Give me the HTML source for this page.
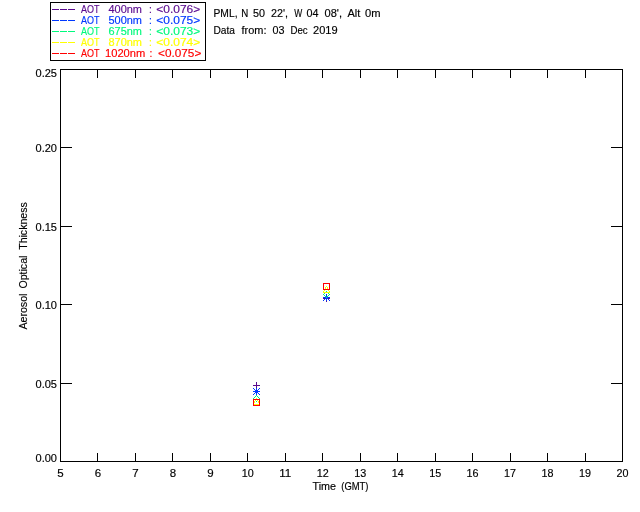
<!DOCTYPE html>
<html lang="en"><head><meta charset="utf-8"><title>Aerosol Optical Thickness - PML</title>
<style>html,body{margin:0;padding:0;background:#fff;overflow:hidden}svg{display:block}text{font-family:"Liberation Sans",sans-serif;font-size:10.2px;fill:#000;stroke:#000;stroke-width:0.15px;white-space:pre}.k{shape-rendering:crispEdges}</style></head><body>
<svg width="640" height="512" viewBox="0 0 640 512">
<rect width="640" height="512" fill="#fff"/>
<g class="k" fill="#000">
<rect x="60" y="69" width="563" height="1"/>
<rect x="60" y="461" width="563" height="1"/>
<rect x="60" y="69" width="1" height="393"/>
<rect x="622" y="69" width="1" height="393"/>
<rect x="97" y="69" width="1" height="9"/>
<rect x="97" y="453" width="1" height="9"/>
<rect x="135" y="69" width="1" height="9"/>
<rect x="135" y="453" width="1" height="9"/>
<rect x="172" y="69" width="1" height="9"/>
<rect x="172" y="453" width="1" height="9"/>
<rect x="210" y="69" width="1" height="9"/>
<rect x="210" y="453" width="1" height="9"/>
<rect x="247" y="69" width="1" height="9"/>
<rect x="247" y="453" width="1" height="9"/>
<rect x="285" y="69" width="1" height="9"/>
<rect x="285" y="453" width="1" height="9"/>
<rect x="322" y="69" width="1" height="9"/>
<rect x="322" y="453" width="1" height="9"/>
<rect x="360" y="69" width="1" height="9"/>
<rect x="360" y="453" width="1" height="9"/>
<rect x="397" y="69" width="1" height="9"/>
<rect x="397" y="453" width="1" height="9"/>
<rect x="435" y="69" width="1" height="9"/>
<rect x="435" y="453" width="1" height="9"/>
<rect x="472" y="69" width="1" height="9"/>
<rect x="472" y="453" width="1" height="9"/>
<rect x="510" y="69" width="1" height="9"/>
<rect x="510" y="453" width="1" height="9"/>
<rect x="547" y="69" width="1" height="9"/>
<rect x="547" y="453" width="1" height="9"/>
<rect x="585" y="69" width="1" height="9"/>
<rect x="585" y="453" width="1" height="9"/>
<rect x="60" y="383" width="12" height="1"/>
<rect x="611" y="383" width="12" height="1"/>
<rect x="60" y="304" width="12" height="1"/>
<rect x="611" y="304" width="12" height="1"/>
<rect x="60" y="226" width="12" height="1"/>
<rect x="611" y="226" width="12" height="1"/>
<rect x="60" y="147" width="12" height="1"/>
<rect x="611" y="147" width="12" height="1"/>
<rect x="50" y="2" width="156" height="1"/><rect x="50" y="60" width="156" height="1"/>
<rect x="50" y="2" width="1" height="59"/><rect x="205" y="2" width="1" height="59"/>
</g>
<g class="k" fill="#5a0a8f"><rect x="52" y="9" width="7" height="1"/><rect x="60" y="9" width="7" height="1"/><rect x="68" y="9" width="7" height="1"/></g>
<text x="81" y="13" textLength="18.5" lengthAdjust="spacingAndGlyphs" style="fill:#5a0a8f;stroke:#5a0a8f">AOT</text>
<text x="108.5" y="13" textLength="33.5" lengthAdjust="spacingAndGlyphs" style="fill:#5a0a8f;stroke:#5a0a8f">400nm</text>
<text x="149" y="13" style="fill:#5a0a8f;stroke:#5a0a8f">:</text>
<text x="156.3" y="13" textLength="44" lengthAdjust="spacingAndGlyphs" style="fill:#5a0a8f;stroke:#5a0a8f">&lt;0.076&gt;</text>
<g class="k" fill="#0038ff"><rect x="52" y="20" width="7" height="1"/><rect x="60" y="20" width="7" height="1"/><rect x="68" y="20" width="7" height="1"/></g>
<text x="81" y="24" textLength="18.5" lengthAdjust="spacingAndGlyphs" style="fill:#0038ff;stroke:#0038ff">AOT</text>
<text x="108.5" y="24" textLength="33.5" lengthAdjust="spacingAndGlyphs" style="fill:#0038ff;stroke:#0038ff">500nm</text>
<text x="149" y="24" style="fill:#0038ff;stroke:#0038ff">:</text>
<text x="156.3" y="24" textLength="44" lengthAdjust="spacingAndGlyphs" style="fill:#0038ff;stroke:#0038ff">&lt;0.075&gt;</text>
<g class="k" fill="#00fa7d"><rect x="52" y="31" width="7" height="1"/><rect x="60" y="31" width="7" height="1"/><rect x="68" y="31" width="7" height="1"/></g>
<text x="81" y="35" textLength="18.5" lengthAdjust="spacingAndGlyphs" style="fill:#00fa7d;stroke:#00fa7d">AOT</text>
<text x="108.5" y="35" textLength="33.5" lengthAdjust="spacingAndGlyphs" style="fill:#00fa7d;stroke:#00fa7d">675nm</text>
<text x="149" y="35" style="fill:#00fa7d;stroke:#00fa7d">:</text>
<text x="156.3" y="35" textLength="44" lengthAdjust="spacingAndGlyphs" style="fill:#00fa7d;stroke:#00fa7d">&lt;0.073&gt;</text>
<g class="k" fill="#ffff00"><rect x="52" y="42" width="7" height="1"/><rect x="60" y="42" width="7" height="1"/><rect x="68" y="42" width="7" height="1"/></g>
<text x="81" y="46" textLength="18.5" lengthAdjust="spacingAndGlyphs" style="fill:#ffff00;stroke:#ffff00">AOT</text>
<text x="108.5" y="46" textLength="33.5" lengthAdjust="spacingAndGlyphs" style="fill:#ffff00;stroke:#ffff00">870nm</text>
<text x="149" y="46" style="fill:#ffff00;stroke:#ffff00">:</text>
<text x="156.3" y="46" textLength="44" lengthAdjust="spacingAndGlyphs" style="fill:#ffff00;stroke:#ffff00">&lt;0.074&gt;</text>
<g class="k" fill="#ff0000"><rect x="52" y="53" width="7" height="1"/><rect x="60" y="53" width="7" height="1"/><rect x="68" y="53" width="7" height="1"/></g>
<text x="81" y="57" textLength="18.5" lengthAdjust="spacingAndGlyphs" style="fill:#ff0000;stroke:#ff0000">AOT</text>
<text x="105" y="57" textLength="40.3" lengthAdjust="spacingAndGlyphs" style="fill:#ff0000;stroke:#ff0000">1020nm</text>
<text x="149.5" y="57" style="fill:#ff0000;stroke:#ff0000">:</text>
<text x="158" y="57" textLength="43.3" lengthAdjust="spacingAndGlyphs" style="fill:#ff0000;stroke:#ff0000">&lt;0.075&gt;</text>
<text x="213.5" y="17" textLength="24" lengthAdjust="spacingAndGlyphs">PML,</text>
<text x="241.3" y="17" textLength="7" lengthAdjust="spacingAndGlyphs">N</text>
<text x="253" y="17" textLength="12" lengthAdjust="spacingAndGlyphs">50</text>
<text x="271" y="17" textLength="17" lengthAdjust="spacingAndGlyphs">22',</text>
<text x="294.3" y="17" textLength="8" lengthAdjust="spacingAndGlyphs">W</text>
<text x="306.5" y="17" textLength="12" lengthAdjust="spacingAndGlyphs">04</text>
<text x="324.5" y="17" textLength="17.5" lengthAdjust="spacingAndGlyphs">08',</text>
<text x="347.5" y="17" textLength="12.8" lengthAdjust="spacingAndGlyphs">Alt</text>
<text x="365" y="17" textLength="15.5" lengthAdjust="spacingAndGlyphs">0m</text>
<text x="213.5" y="34" textLength="21.5" lengthAdjust="spacingAndGlyphs">Data</text>
<text x="241.5" y="34" textLength="25" lengthAdjust="spacingAndGlyphs">from:</text>
<text x="272.5" y="34" textLength="12" lengthAdjust="spacingAndGlyphs">03</text>
<text x="290.5" y="34" textLength="17.2" lengthAdjust="spacingAndGlyphs">Dec</text>
<text x="313" y="34" textLength="24.6" lengthAdjust="spacingAndGlyphs">2019</text>
<text x="35.5" y="462" textLength="21.5" lengthAdjust="spacingAndGlyphs">0.00</text>
<text x="35.5" y="388" textLength="21.5" lengthAdjust="spacingAndGlyphs">0.05</text>
<text x="35.5" y="309" textLength="21.5" lengthAdjust="spacingAndGlyphs">0.10</text>
<text x="35.5" y="231" textLength="21.5" lengthAdjust="spacingAndGlyphs">0.15</text>
<text x="35.5" y="152" textLength="21.5" lengthAdjust="spacingAndGlyphs">0.20</text>
<text x="35.5" y="77" textLength="21.5" lengthAdjust="spacingAndGlyphs">0.25</text>
<text x="57.3" y="477" textLength="6.4" lengthAdjust="spacingAndGlyphs">5</text>
<text x="94.8" y="477" textLength="6.4" lengthAdjust="spacingAndGlyphs">6</text>
<text x="132.2" y="477" textLength="6.4" lengthAdjust="spacingAndGlyphs">7</text>
<text x="169.7" y="477" textLength="6.4" lengthAdjust="spacingAndGlyphs">8</text>
<text x="207.2" y="477" textLength="6.4" lengthAdjust="spacingAndGlyphs">9</text>
<text x="241.8" y="477" textLength="12" lengthAdjust="spacingAndGlyphs">10</text>
<text x="279.3" y="477" textLength="12" lengthAdjust="spacingAndGlyphs">11</text>
<text x="316.8" y="477" textLength="12" lengthAdjust="spacingAndGlyphs">12</text>
<text x="354.2" y="477" textLength="12" lengthAdjust="spacingAndGlyphs">13</text>
<text x="391.7" y="477" textLength="12" lengthAdjust="spacingAndGlyphs">14</text>
<text x="429.2" y="477" textLength="12" lengthAdjust="spacingAndGlyphs">15</text>
<text x="466.6" y="477" textLength="12" lengthAdjust="spacingAndGlyphs">16</text>
<text x="504.1" y="477" textLength="12" lengthAdjust="spacingAndGlyphs">17</text>
<text x="541.6" y="477" textLength="12" lengthAdjust="spacingAndGlyphs">18</text>
<text x="579.0" y="477" textLength="12" lengthAdjust="spacingAndGlyphs">19</text>
<text x="616.5" y="477" textLength="12" lengthAdjust="spacingAndGlyphs">20</text>
<text y="490"><tspan x="312.5" textLength="23.5" lengthAdjust="spacingAndGlyphs">Time</tspan> <tspan x="341.3" textLength="27.2" lengthAdjust="spacingAndGlyphs">(GMT)</tspan></text>
<text y="0" transform="translate(27.2,329.6) rotate(-90)"><tspan x="0" textLength="36" lengthAdjust="spacingAndGlyphs">Aerosol</tspan> <tspan x="41" textLength="33" lengthAdjust="spacingAndGlyphs">Optical</tspan> <tspan x="79.8" textLength="47.5" lengthAdjust="spacingAndGlyphs">Thickness</tspan></text>
<g class="k" fill="#5a0a8f"><rect x="253" y="385" width="7" height="1"/><rect x="256" y="382" width="1" height="7"/></g>
<g class="k" fill="#5a0a8f"><rect x="323" y="298" width="7" height="1"/><rect x="326" y="295" width="1" height="7"/></g>
<g class="k" fill="#0038ff"><rect x="253" y="391" width="7" height="1"/><rect x="256" y="388" width="1" height="7"/></g>
<g class="k" fill="#0038ff"><rect x="253" y="388" width="1" height="1"/><rect x="253" y="394" width="1" height="1"/><rect x="254" y="389" width="1" height="1"/><rect x="254" y="393" width="1" height="1"/><rect x="255" y="390" width="1" height="1"/><rect x="255" y="392" width="1" height="1"/><rect x="257" y="392" width="1" height="1"/><rect x="257" y="390" width="1" height="1"/><rect x="258" y="393" width="1" height="1"/><rect x="258" y="389" width="1" height="1"/><rect x="259" y="394" width="1" height="1"/><rect x="259" y="388" width="1" height="1"/></g>
<g class="k" fill="#0038ff"><rect x="323" y="297" width="7" height="1"/><rect x="326" y="294" width="1" height="7"/></g>
<g class="k" fill="#0038ff"><rect x="323" y="294" width="1" height="1"/><rect x="323" y="300" width="1" height="1"/><rect x="324" y="295" width="1" height="1"/><rect x="324" y="299" width="1" height="1"/><rect x="325" y="296" width="1" height="1"/><rect x="325" y="298" width="1" height="1"/><rect x="327" y="298" width="1" height="1"/><rect x="327" y="296" width="1" height="1"/><rect x="328" y="299" width="1" height="1"/><rect x="328" y="295" width="1" height="1"/><rect x="329" y="300" width="1" height="1"/><rect x="329" y="294" width="1" height="1"/></g>
<g class="k" fill="#00fa7d"><rect x="253" y="398" width="1" height="1"/><rect x="253" y="398" width="1" height="1"/><rect x="254" y="397" width="1" height="1"/><rect x="254" y="399" width="1" height="1"/><rect x="255" y="396" width="1" height="1"/><rect x="255" y="400" width="1" height="1"/><rect x="256" y="395" width="1" height="1"/><rect x="256" y="401" width="1" height="1"/><rect x="257" y="396" width="1" height="1"/><rect x="257" y="400" width="1" height="1"/><rect x="258" y="397" width="1" height="1"/><rect x="258" y="399" width="1" height="1"/><rect x="259" y="398" width="1" height="1"/><rect x="259" y="398" width="1" height="1"/></g>
<g class="k" fill="#00fa7d"><rect x="323" y="294" width="1" height="1"/><rect x="323" y="294" width="1" height="1"/><rect x="324" y="293" width="1" height="1"/><rect x="324" y="295" width="1" height="1"/><rect x="325" y="292" width="1" height="1"/><rect x="325" y="296" width="1" height="1"/><rect x="326" y="291" width="1" height="1"/><rect x="326" y="297" width="1" height="1"/><rect x="327" y="292" width="1" height="1"/><rect x="327" y="296" width="1" height="1"/><rect x="328" y="293" width="1" height="1"/><rect x="328" y="295" width="1" height="1"/><rect x="329" y="294" width="1" height="1"/><rect x="329" y="294" width="1" height="1"/></g>
<g class="k" fill="#ffff00"><rect x="253" y="404" width="7" height="1"/><rect x="253" y="404" width="1" height="1"/><rect x="259" y="404" width="1" height="1"/><rect x="253" y="403" width="1" height="1"/><rect x="259" y="403" width="1" height="1"/><rect x="254" y="402" width="1" height="1"/><rect x="258" y="402" width="1" height="1"/><rect x="254" y="401" width="1" height="1"/><rect x="258" y="401" width="1" height="1"/><rect x="255" y="400" width="1" height="1"/><rect x="257" y="400" width="1" height="1"/><rect x="255" y="399" width="1" height="1"/><rect x="257" y="399" width="1" height="1"/><rect x="256" y="398" width="1" height="1"/><rect x="256" y="398" width="1" height="1"/></g>
<g class="k" fill="#ffff00"><rect x="323" y="292" width="7" height="1"/><rect x="323" y="292" width="1" height="1"/><rect x="329" y="292" width="1" height="1"/><rect x="323" y="291" width="1" height="1"/><rect x="329" y="291" width="1" height="1"/><rect x="324" y="290" width="1" height="1"/><rect x="328" y="290" width="1" height="1"/><rect x="324" y="289" width="1" height="1"/><rect x="328" y="289" width="1" height="1"/><rect x="325" y="288" width="1" height="1"/><rect x="327" y="288" width="1" height="1"/><rect x="325" y="287" width="1" height="1"/><rect x="327" y="287" width="1" height="1"/><rect x="326" y="286" width="1" height="1"/><rect x="326" y="286" width="1" height="1"/></g>
<g class="k" fill="#ff0000"><rect x="253" y="399" width="7" height="1"/><rect x="253" y="405" width="7" height="1"/><rect x="253" y="399" width="1" height="7"/><rect x="259" y="399" width="1" height="7"/></g>
<g class="k" fill="#ff0000"><rect x="323" y="283" width="7" height="1"/><rect x="323" y="289" width="7" height="1"/><rect x="323" y="283" width="1" height="7"/><rect x="329" y="283" width="1" height="7"/></g>
</svg></body></html>
